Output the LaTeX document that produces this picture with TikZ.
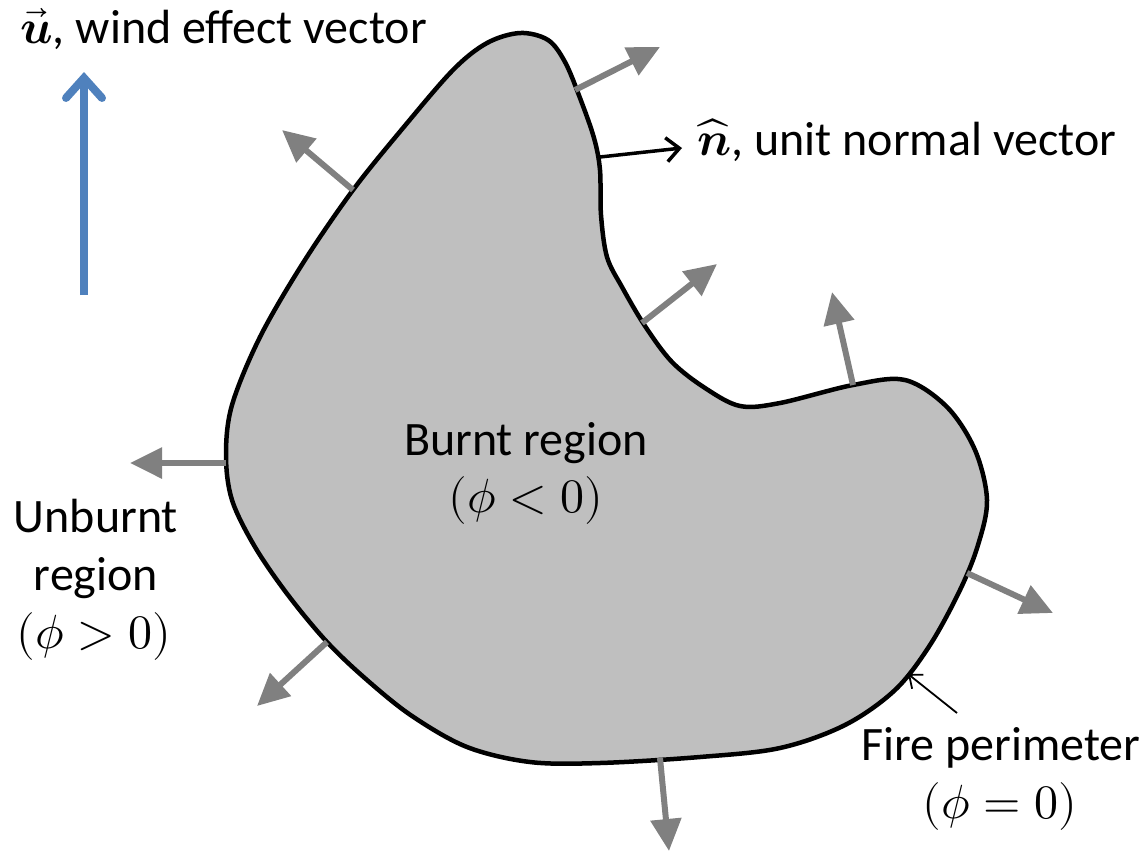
\documentclass[tikz,border=0pt]{standalone}
\usepackage{fontspec}
\usepackage{unicode-math}
\setmainfont{Carlito}
\setmathfont{Latin Modern Math}
\usetikzlibrary{arrows.meta}
\definecolor{fillgray}{RGB}{191,191,191}
\definecolor{arrgray}{RGB}{128,128,128}
\definecolor{windblue}{RGB}{79,129,189}
\begin{document}
\begin{tikzpicture}[x=1pt,y=-1pt,
  normalvec/.style={draw=arrgray,line width=6pt,-{Triangle[length=32pt,width=30pt]}},
  blackvec/.style={draw=black,line width=3.5pt,line cap=round,-{Straight Barb[length=13pt,width=24pt]}},
  pointer/.style={draw=black,line width=1.8pt,-{Straight Barb[length=11pt,width=18pt]}},
  windvec/.style={draw=windblue,line width=8pt,-{Straight Barb[length=20pt,width=36pt,line cap=round]}},
  lbl/.style={font=\fontsize{48}{58}\selectfont,inner sep=0pt,align=center}]
\useasboundingbox (0,0) rectangle (1145,852);
% fire region
\draw[fill=fillgray,line width=4.5pt,line join=round] plot[smooth cycle,tension=0.55] coordinates {
 (520,33) (548,40) (565,62) (580,98) (594,138) (600,170) (601,215) (607,257) (622,287)
 (645,326) (672,362) (705,388) (740,406) (780,403) (853,385) (905,380) (947,407)
 (975,450) (987,500) (978,545) (960,590) (930,645) (895,690) (845,725) (780,748)
 (700,757) (600,763) (530,762) (467,747) (412,716) (367,680) (327,642) (288,595)
 (255,547) (232,500) (226,455) (232,405) (260,337) (303,263) (353,190) (403,128)
 (453,70) (487,43)};
% normal vector coordinates
\coordinate (a1) at (575,90);   \coordinate (b1) at (660,47);
\coordinate (a2) at (353,190);  \coordinate (b2) at (282,130);
\coordinate (a3) at (642,323);  \coordinate (b3) at (717,264);
\coordinate (a4) at (853,385);  \coordinate (b4) at (832,292);
\coordinate (a5) at (226,463);  \coordinate (b5) at (130,463);
\coordinate (a6) at (327,642);  \coordinate (b6) at (257,706);
\coordinate (a7) at (660,758);  \coordinate (b7) at (669,851);
\coordinate (a8) at (967,573);  \coordinate (b8) at (1053,613);
\foreach \i in {1,...,8} {\draw[normalvec] (a\i) -- (b\i);}
% unit normal
\coordinate (na) at (600,157);
\coordinate (nb) at (682,148);
\draw[blackvec] (na) -- (nb);
\node[lbl,anchor=base west] (nlab) at (697,155) {$\widehat{\symbfit{n}}$, unit normal vector};
% wind vector
\coordinate (wa) at (84,295);
\coordinate (wb) at (84,72);
\draw[windvec] (wa) -- (wb);
\node[lbl,anchor=base west] (ulab) at (20,43) {$\vec{\symbfit{u}}$, wind effect vector};
% labels
\node[lbl,anchor=base] (burnt) at (526,455) {Burnt region};
\node[lbl,anchor=base] (burntphi) at (526,512) {$(\phi<0)$};
\node[lbl,anchor=base] (unb1) at (96,532) {Unburnt};
\node[lbl,anchor=base] (unb2) at (96,590) {region};
\node[lbl,anchor=base] (unb3) at (94,648) {$(\phi>0)$};
\node[lbl,anchor=base] (fire1) at (1001,760) {Fire perimeter};
\node[lbl,anchor=base] (fire2) at (1000,818) {$(\phi=0)$};
\coordinate (pa) at (957,713);
\coordinate (pb) at (908,674);
\draw[pointer] (pa) -- (pb);
\end{tikzpicture}
\end{document}
